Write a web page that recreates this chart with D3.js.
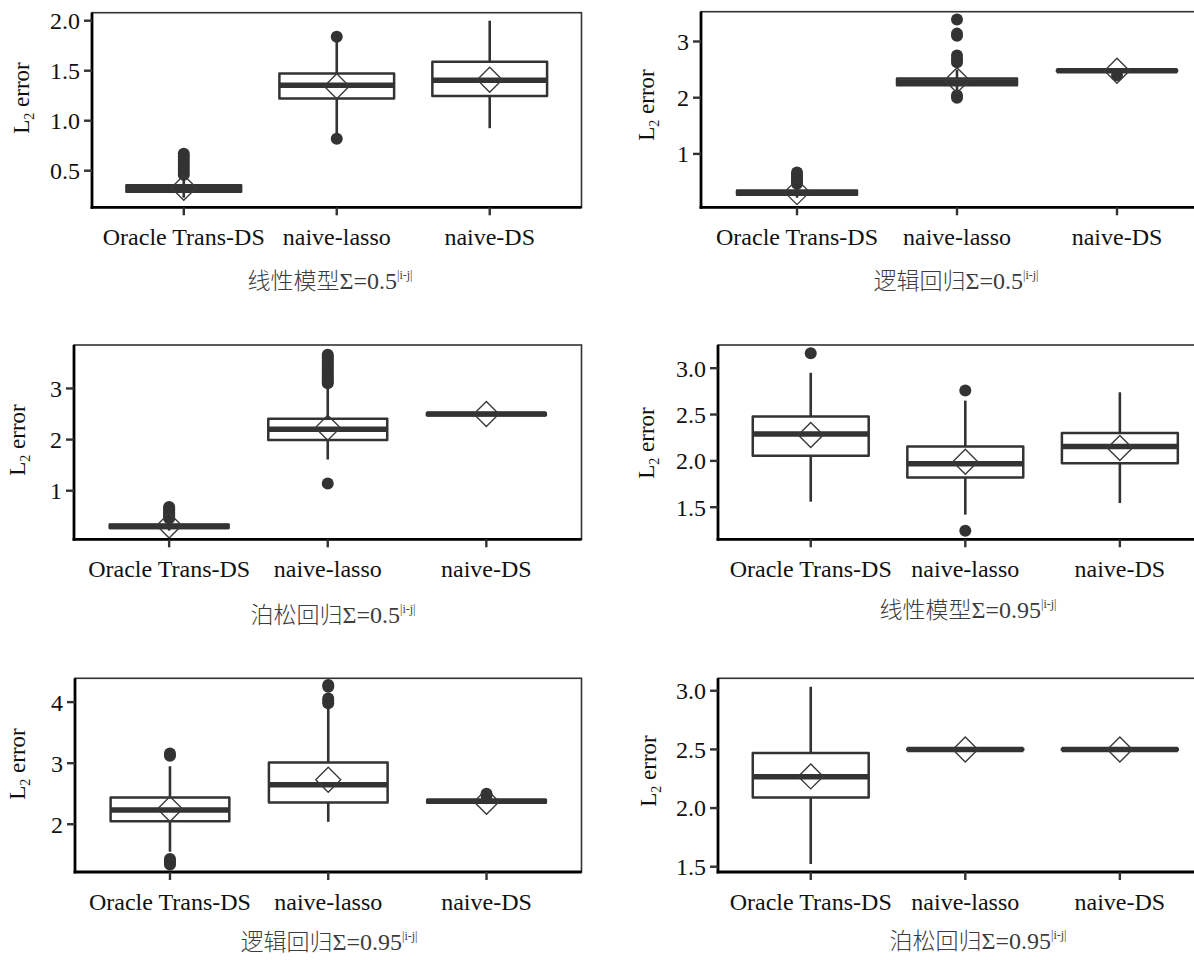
<!DOCTYPE html>
<html>
<head>
<meta charset="utf-8">
<script src="https://cdn.jsdelivr.net/npm/d3@7"></script>
<style>
  html, body { margin: 0; padding: 0; background: #fff; }
  svg { display: block; }
</style>
</head>
<body>
<svg id="chart" width="1194" height="960"></svg>
<script>
// ---------------- data ----------------
const categories = ["Oracle Trans-DS", "naive-lasso", "naive-DS"];
const titleModel = ["线性模型", "逻辑回归", "泊松回归", "线性模型", "逻辑回归", "泊松回归"];
const titleRho = ["0.5", "0.5", "0.5", "0.95", "0.95", "0.95"];
const yTicks = [[0.5, 1.0, 1.5, 2.0], [1, 2, 3], [1, 2, 3], [1.5, 2.0, 2.5, 3.0], [2, 3, 4], [1.5, 2.0, 2.5, 3.0]];
const yTickFormat = [".1f", "d", "d", ".1f", "d", ".1f"];
const yDomains = [[0.134, 2.08], [0.05, 3.53], [0.05, 3.85], [1.154, 3.25], [1.218, 4.39], [1.455, 3.106]];

const whiskerLow = [
  [0.23, 0.86, 0.925],
  [0.22, 2.08, 2.43],
  [0.22, 1.61, 2.46],
  [1.56, 1.42, 1.545],
  [1.55, 2.04, 2.33],
  [1.523, 2.49, 2.49]
];
const q1 = [
  [0.29, 1.223, 1.247],
  [0.275, 2.22, 2.465],
  [0.27, 1.99, 2.478],
  [2.055, 1.82, 1.975],
  [2.05, 2.355, 2.35],
  [2.09, 2.495, 2.495]
];
const median = [
  [0.32, 1.355, 1.405],
  [0.31, 2.28, 2.48],
  [0.30, 2.20, 2.50],
  [2.29, 1.97, 2.155],
  [2.235, 2.645, 2.375],
  [2.267, 2.50, 2.50]
];
const q3 = [
  [0.355, 1.473, 1.59],
  [0.35, 2.34, 2.495],
  [0.34, 2.41, 2.522],
  [2.48, 2.155, 2.30],
  [2.44, 3.01, 2.40],
  [2.47, 2.505, 2.505]
];
const whiskerHigh = [
  [0.44, 1.80, 2.0],
  [0.45, 2.50, 2.52],
  [0.44, 3.02, 2.54],
  [2.95, 2.65, 2.74],
  [2.95, 3.92, 2.42],
  [3.034, 2.51, 2.51]
];
const means = [
  [0.33, 1.345, 1.41],
  [0.32, 2.31, 2.48],
  [0.32, 2.23, 2.50],
  [2.28, 1.99, 2.14],
  [2.25, 2.73, 2.37],
  [2.27, 2.50, 2.50]
];
const outliers = [
  [[0.46, 0.49, 0.52, 0.55, 0.58, 0.61, 0.64, 0.67], [0.82, 1.84], []],
  [[0.47, 0.51, 0.55, 0.59, 0.63, 0.67], [2.00, 2.04, 2.63, 2.69, 2.75, 3.10, 3.14, 3.39], [2.40]],
  [[0.46, 0.50, 0.54, 0.58, 0.62, 0.66, 0.68],
   [1.14, 3.10, 3.14, 3.18, 3.22, 3.26, 3.30, 3.34, 3.38, 3.42, 3.46, 3.50, 3.54, 3.58, 3.62, 3.66], []],
  [[3.16], [1.245, 2.76], []],
  [[1.34, 1.37, 1.40, 1.43, 3.12, 3.16], [3.98, 4.02, 4.06, 4.25, 4.28], [2.47, 2.50]],
  [[], [], []]
];

// ---------------- layout (pixel positions, not data) ----------------
const layout = [
  { x0: 92,  x1: 581.5,  y0: 12.7,  y1: 207.3, titleX: 330, titleY: 280, ylabX: 21,  ylabY: 98 },
  { x0: 701, x1: 1213,   y0: 11.7,  y1: 207.3, titleX: 956, titleY: 280, ylabX: 646, ylabY: 105 },
  { x0: 74,  x1: 581.5,  y0: 345,   y1: 539.3, titleX: 333, titleY: 614, ylabX: 17,  ylabY: 440 },
  { x0: 718, x1: 1212.6, y0: 345,   y1: 539.3, titleX: 968, titleY: 609, ylabX: 646, ylabY: 443 },
  { x0: 75,  x1: 581.5,  y0: 678.3, y1: 872,   titleX: 329, titleY: 941, ylabX: 17,  ylabY: 764 },
  { x0: 718, x1: 1212.6, y0: 678.3, y1: 872,   titleX: 978, titleY: 940, ylabX: 648, ylabY: 771 }
];

const INK = "#333333";
const SERIF = "'Liberation Serif','Times New Roman',serif";
const CJK = "'Noto Sans CJK SC','Noto Sans CJK JP',sans-serif";

const svg = d3.select("#chart");

layout.forEach((L, p) => {
  const g = svg.append("g");
  const x = d3.scalePoint().domain(categories).range([L.x0, L.x1]).padding(0.6);
  const y = d3.scaleLinear().domain(yDomains[p]).range([L.y1, L.y0]);
  const bw = x.step() * 0.75;

  // panel border (top/right thin)
  g.append("rect")
    .attr("x", L.x0).attr("y", L.y0)
    .attr("width", L.x1 - L.x0).attr("height", L.y1 - L.y0)
    .attr("fill", "none").attr("stroke", INK).attr("stroke-width", 1.6);

  // boxes
  categories.forEach((c, i) => {
    const cx = x(c);
    // outliers
    g.selectAll(null).data(outliers[p][i]).enter().append("circle")
      .attr("cx", cx).attr("cy", d => y(d)).attr("r", 6)
      .attr("fill", INK);
    // whiskers
    g.append("line").attr("x1", cx).attr("x2", cx)
      .attr("y1", y(q3[p][i])).attr("y2", y(whiskerHigh[p][i]))
      .attr("stroke", INK).attr("stroke-width", 2.6);
    g.append("line").attr("x1", cx).attr("x2", cx)
      .attr("y1", y(q1[p][i])).attr("y2", y(whiskerLow[p][i]))
      .attr("stroke", INK).attr("stroke-width", 2.6);
    // box
    g.append("rect")
      .attr("x", cx - bw / 2).attr("y", y(q3[p][i]))
      .attr("width", bw).attr("height", y(q1[p][i]) - y(q3[p][i]))
      .attr("fill", "#fff").attr("stroke", INK).attr("stroke-width", 2.5)
      .attr("stroke-linejoin", "round");
    // median
    g.append("line")
      .attr("x1", cx - bw / 2).attr("x2", cx + bw / 2)
      .attr("y1", y(median[p][i])).attr("y2", y(median[p][i]))
      .attr("stroke", INK).attr("stroke-width", 5.5);
  });

  // mean diamonds
  categories.forEach((c, i) => {
    const cx = x(c), cy = y(means[p][i]), h = 12.5;
    g.append("path")
      .attr("d", `M${cx},${cy - h}L${cx + h},${cy}L${cx},${cy + h}L${cx - h},${cy}Z`)
      .attr("fill", "none").attr("stroke", "#3a3a3a").attr("stroke-width", 1.4);
  });

  // axes lines (left & bottom thick)
  g.append("line").attr("x1", L.x0).attr("x2", L.x0).attr("y1", L.y0).attr("y2", L.y1 + 1.4)
    .attr("stroke", "#000").attr("stroke-width", 2.8);
  g.append("line").attr("x1", L.x0 - 1.4).attr("x2", L.x1).attr("y1", L.y1).attr("y2", L.y1)
    .attr("stroke", "#000").attr("stroke-width", 2.8);

  // y axis ticks + labels
  const fmt = d3.format(yTickFormat[p]);
  yTicks[p].forEach(t => {
    g.append("line").attr("x1", L.x0 - 8).attr("x2", L.x0).attr("y1", y(t)).attr("y2", y(t))
      .attr("stroke", INK).attr("stroke-width", 2.4);
    g.append("text").attr("x", L.x0 - 12).attr("y", y(t)).attr("dy", "0.35em")
      .attr("text-anchor", "end").attr("font-family", SERIF).attr("font-size", 24)
      .attr("fill", "#111").text(fmt(t));
  });

  // x axis ticks + labels
  categories.forEach(c => {
    g.append("line").attr("x1", x(c)).attr("x2", x(c)).attr("y1", L.y1).attr("y2", L.y1 + 8)
      .attr("stroke", INK).attr("stroke-width", 2.4);
    g.append("text").attr("x", x(c)).attr("y", L.y1 + 38)
      .attr("text-anchor", "middle").attr("font-family", SERIF).attr("font-size", 24)
      .attr("fill", "#111").text(c);
  });

  // y axis title  L_2 error
  const yl = g.append("text")
    .attr("transform", `translate(${L.ylabX + 8},${L.ylabY}) rotate(-90)`)
    .attr("text-anchor", "middle").attr("font-family", SERIF).attr("font-size", 23)
    .attr("fill", "#111");
  yl.append("tspan").text("L");
  yl.append("tspan").attr("font-size", 14).attr("dy", 5).text("2");
  yl.append("tspan").attr("dy", -5).text(" error");

  // panel title
  const tt = g.append("text")
    .attr("x", L.titleX).attr("y", L.titleY + 9)
    .attr("text-anchor", "middle").attr("fill", "#3c3c3c");
  tt.append("tspan").attr("font-family", CJK).attr("font-weight", 300).attr("font-size", 23).text(titleModel[p]);
  tt.append("tspan").attr("font-family", SERIF).attr("font-size", 24).text("Σ=" + titleRho[p]);
  tt.append("tspan").attr("font-family", SERIF).attr("font-size", 12).attr("dy", -10).text("|i-j|");
});
</script>
</body>
</html>
